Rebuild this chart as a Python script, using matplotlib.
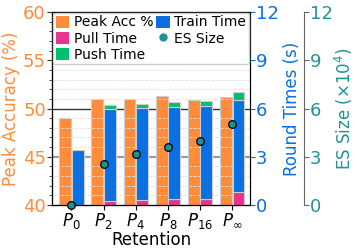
import numpy as np
import matplotlib
matplotlib.use('Agg')
import matplotlib.pyplot as plt
from matplotlib.patches import Patch
from matplotlib.lines import Line2D
from matplotlib.ticker import MultipleLocator

labels = [r'$P_0$', r'$P_2$', r'$P_4$', r'$P_8$', r'$P_{16}$', r'$P_\infty$']
peak_acc = [49.0, 51.0, 51.0, 51.3, 50.9, 51.15]
pull_time = [0.0, 0.25, 0.31, 0.37, 0.40, 0.83]
train_time = [3.44, 5.73, 5.71, 5.73, 5.75, 5.69]
push_time = [0.0, 0.21, 0.27, 0.30, 0.33, 0.50]
es_size = [0.0, 2.56, 3.15, 3.58, 3.95, 5.05]

c_acc = '#FF8C3A'
c_pull = '#E8338F'
c_train = '#0A6FE0'
c_push = '#00C070'
c_es = '#1F9393'
edge = '#CCCCCC'

fig = plt.figure(figsize=(3.57, 2.5), dpi=100)
ax = fig.add_axes([0.146, 0.18, 0.554, 0.772])
ax2 = ax.twinx()
ax3 = ax.twinx()
ax3.spines['right'].set_position(('axes', 1.273))

x = np.arange(len(labels))
w = 0.37

# accuracy bars (left axis)
ax.bar(x - w / 2 - 0.01, np.array(peak_acc) - 40, bottom=40, width=w,
       color=c_acc, edgecolor=edge, linewidth=0.8)
ax.set_ylim(40, 60)
ax.yaxis.set_major_locator(MultipleLocator(5))
ax.yaxis.set_minor_locator(MultipleLocator(1))
ax.grid(which='minor', axis='y', color='#E2E2E2', linestyle='--', linewidth=0.6)
ax.axhline(45, color='#999999', linewidth=1.5, zorder=0.5)
ax.axhline(50, color='#333333', linewidth=1.0, zorder=0.5)
ax.set_ylabel('Peak Accuracy (%)', color=c_acc, fontsize=12, labelpad=2)
ax.tick_params(axis='y', colors=c_acc, labelsize=13, pad=1)
ax.tick_params(axis='y', which='both', color='#333333')
ax.set_xticks(x)
ax.set_xticklabels(labels, fontsize=12)
ax.tick_params(axis='x', pad=1)
ax.set_xlabel('Retention', fontsize=12, labelpad=0)
ax.set_xlim(-0.6, len(labels) - 0.45)

# stacked time bars (right axis)
xb = x + w / 2 + 0.01
pull = np.array(pull_time)
train = np.array(train_time)
push = np.array(push_time)
ax2.bar(xb, pull, width=w, color=c_pull, edgecolor=edge, linewidth=0.8)
ax2.bar(xb, train, bottom=pull, width=w, color=c_train, edgecolor=edge, linewidth=0.8)
ax2.bar(xb, push, bottom=pull + train, width=w, color=c_push, edgecolor=edge, linewidth=0.8)
ax2.set_ylim(0, 12)
ax2.yaxis.set_major_locator(MultipleLocator(3))
ax2.set_ylabel('Round Times (s)', color=c_train, fontsize=12, labelpad=3)
ax2.tick_params(axis='y', colors=c_train, labelsize=13, pad=1)

# ES size markers (third axis)
ax3.scatter(x, es_size, s=30, color=c_es, edgecolor='black', linewidth=0.9,
            zorder=5, clip_on=False)
ax3.set_ylim(0, 12)
ax3.yaxis.set_major_locator(MultipleLocator(3))
ax3.set_ylabel(r'ES Size ($\times10^4$)', color=c_es, fontsize=12, labelpad=0)
ax3.tick_params(axis='y', colors=c_es, labelsize=13, pad=1)
ax3.tick_params(axis='y', color='#666666')
ax3.spines['right'].set_color('#666666')

handles = [
    Patch(facecolor=c_acc, label='Peak Acc %'),
    Patch(facecolor=c_pull, label='Pull Time'),
    Patch(facecolor=c_push, label='Push Time'),
    Patch(facecolor=c_train, label='Train Time'),
    Line2D([], [], marker='o', linestyle='', markerfacecolor=c_es,
           markeredgecolor=c_es, markersize=5, label='ES Size'),
]
ax3.legend(handles=handles, ncol=2, loc='upper left', fontsize=10,
           handlelength=1.0, handleheight=1.0, handletextpad=0.3,
           columnspacing=0.2, borderpad=0.2, labelspacing=0.15,
           borderaxespad=0.05, framealpha=1, edgecolor='#CCCCCC',
           fancybox=True)

fig.savefig('out.png', dpi=100)
